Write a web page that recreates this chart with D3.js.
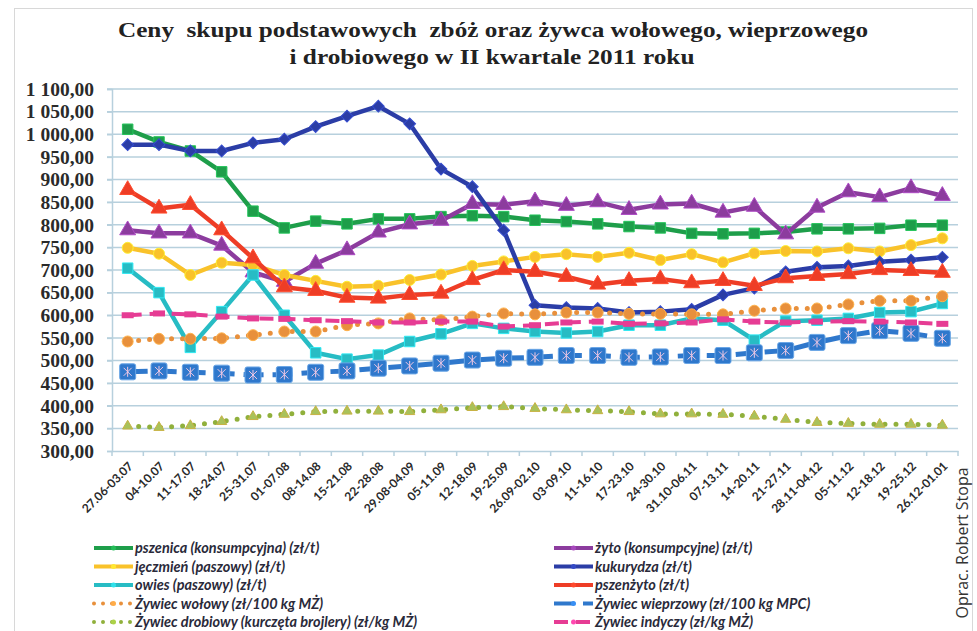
<!DOCTYPE html>
<html>
<head>
<meta charset="utf-8">
<script src="https://cdn.jsdelivr.net/npm/d3@7"></script>
<style>
  body { margin: 0; background: #fff; }
  svg { display: block; }
</style>
</head>
<body>
<script>
const W = 977, H = 631

// kategorie (tygodnie)
const categories = ["27.06-03.07","04-10.07","11-17.07","18-24.07","25-31.07","01-07.08","08-14.08","15-21.08","22-28.08","29.08-04.09","05-11.09","12-18.09","19-25.09","26.09-02.10","03-09.10","11-16.10","17-23.10","24-30.10","31.10-06.11","07-13.11","14-20.11","21-27.11","28.11-04.12","05-11.12","12-18.12","19-25.12","26.12-01.01"]

// serie
const pszenica   = [1011,983,963,917,830,793,808,802,813,813,818,820,818,810,807,802,796,793,781,780,781,784,791,791,792,799,799]
const zyto       = [788,781,781,754,695,674,714,744,783,801,809,846,844,852,842,850,833,845,847,827,840,779,838,872,861,881,864]
const jeczmien   = [749,736,689,716,711,689,676,663,665,678,690,709,719,729,735,729,738,722,735,717,737,742,741,748,741,755,770]
const kukurydza  = [977,977,963,963,981,989,1017,1040,1062,1023,923,884,788,622,617,615,606,608,613,645,660,696,706,709,718,722,728]
const owies      = [704,650,529,608,689,600,517,503,512,542,559,582,571,564,561,564,578,578,593,589,545,587,589,593,606,608,626]
const pszenzyto  = [877,836,844,788,726,662,654,639,637,645,648,678,700,696,685,668,676,680,671,676,665,682,687,691,700,698,694]
const wolowy     = [542,548,548,549,556,564,564,578,582,593,589,597,604,602,606,606,603,603,602,602,610,615,615,624,632,632,642]
const wieprzowy  = [475,477,474,472,468,469,474,477,483,488,494,501,505,507,511,511,507,508,511,511,517,522,540,555,566,560,549]
const drobiowy   = [355,352,356,365,376,381,387,388,388,387,391,396,398,394,391,389,387,382,382,381,377,370,363,361,359,359,357]
const indyczy    = [600,604,602,597,593,592,589,587,584,584,586,586,575,578,584,586,581,582,584,591,586,584,586,587,586,584,581]

const yTicks = d3.range(300, 1101, 50)

// opis serii (kolejność rysowania = kolejność w legendzie, wiersz po wierszu)
const series = [
  { name: 'pszenica (konsumpcyjna) (zł/t)', values: pszenica, color: '#1e9e4a', marker: 'square', col: 0, row: 0 },
  { name: 'żyto (konsumpcyjne) (zł/t)', values: zyto, color: '#8c3c9e', marker: 'triangle', col: 1, row: 0 },
  { name: 'jęczmień (paszowy) (zł/t)', values: jeczmien, color: '#f9c22a', marker: 'circle', col: 0, row: 1 },
  { name: 'kukurydza (zł/t)', values: kukurydza, color: '#2b3da6', marker: 'diamond', col: 1, row: 1 },
  { name: 'owies (paszowy) (zł/t)', values: owies, color: '#27bcc4', marker: 'square', col: 0, row: 2 },
  { name: 'pszenżyto (zł/t)', values: pszenzyto, color: '#ee3d26', marker: 'triangle', col: 1, row: 2 },
  { name: 'Żywiec wołowy (zł/100 kg MŻ)', values: wolowy, color: '#e8903c', marker: 'circle', dash: 'dot', col: 0, row: 3 },
  { name: 'Żywiec wieprzowy (zł/100 kg MPC)', values: wieprzowy, color: '#2f78cc', marker: 'pig', dash: 'long', col: 1, row: 3 },
  { name: 'Żywiec drobiowy (kurczęta brojlery) (zł/kg MŻ)', values: drobiowy, color: '#90b03c', marker: 'smalltri', dash: 'dot', col: 0, row: 4 },
  { name: 'Żywiec indyczy (zł/kg MŻ)', values: indyczy, color: '#e63c94', marker: 'bar', dash: 'mid', col: 1, row: 4 }
]

const svg = d3.select('body').append('svg').attr('width', W).attr('height', H)

svg.append('rect').attr('x', 14.5).attr('y', 8.5).attr('width', 958).attr('height', 640)
  .attr('fill', '#fff').attr('stroke', '#d8d8d8')

// tytuł (podwójne spacje jak w oryginale)
const title = svg.append('g').attr('font-family', '"Liberation Serif", "DejaVu Serif", serif')
  .attr('font-weight', 'bold').attr('fill', '#222').attr('text-anchor', 'middle')
title.append('text').attr('x', 493).attr('y', 37).attr('font-size', 22)
  .attr('textLength', 750).attr('lengthAdjust', 'spacingAndGlyphs')
  .text('Ceny \u00a0skupu podstawowych \u00a0zbóż oraz żywca wołowego, wieprzowego')
title.append('text').attr('x', 492).attr('y', 64).attr('font-size', 22)
  .attr('textLength', 405).attr('lengthAdjust', 'spacingAndGlyphs')
  .text('i drobiowego w II kwartale 2011 roku')

// skale
const x = d3.scaleBand().domain(categories).range([112, 958])
const xc = d => x(d) + x.bandwidth() / 2
const y = d3.scaleLinear().domain([300, 1100]).range([451, 89])

const pl = d3.formatLocale({ decimal: ',', thousands: ' ', grouping: [3], currency: ['', ' zł'] })
const fmt = pl.format(',.2f')

// siatka
svg.append('g').selectAll('line').data(yTicks.slice(1)).join('line')
  .attr('x1', 107).attr('x2', 958)
  .attr('y1', d => y(d)).attr('y2', d => y(d))
  .attr('stroke', '#b7d0dd').attr('stroke-width', 1.5)

// oś Y
const yAxis = svg.append('g').attr('transform', 'translate(112,0)')
  .call(d3.axisLeft(y).tickValues(yTicks).tickFormat(fmt).tickSize(5).tickPadding(13))
yAxis.select('.domain').attr('stroke', '#b7d0dd').attr('stroke-width', 1.5)
yAxis.selectAll('.tick line').attr('stroke', '#b7d0dd').attr('stroke-width', 1.5)
yAxis.selectAll('.tick text').attr('font-family', '"Liberation Serif", "DejaVu Serif", serif')
  .attr('font-weight', 'bold').attr('font-size', 19.5).attr('fill', '#2a2a2a')

// oś X
const xAxis = svg.append('g').attr('transform', 'translate(0,451)')
  .call(d3.axisBottom(x).tickSize(0).tickPadding(0))
xAxis.select('.domain').attr('stroke', '#b7d0dd').attr('stroke-width', 1.5)
xAxis.selectAll('.tick text')
  .attr('font-family', 'Lato, "Liberation Sans", sans-serif').attr('font-weight', 'bold')
  .attr('font-size', 12).attr('fill', '#2a2a2a')
  .attr('text-anchor', 'end').attr('dy', 0)
  .attr('transform', 'translate(6,16) rotate(-45)')
svg.append('g').selectAll('line').data(categories.concat(['end'])).join('line')
  .attr('x1', (d, i) => 112 + i * x.bandwidth()).attr('x2', (d, i) => 112 + i * x.bandwidth())
  .attr('y1', 451).attr('y2', 456)
  .attr('stroke', '#b7d0dd').attr('stroke-width', 1.5)

// markery
function drawMarker(g, s, cx, cy) {
  const c = s.color
  const light = d3.color(c).brighter(0.6)
  if (s.marker === 'square') {
    g.append('path').attr('d', d3.symbol(d3.symbolSquare, 110)())
      .attr('transform', `translate(${cx},${cy})`).attr('fill', c).attr('stroke', light).attr('stroke-width', 1)
  } else if (s.marker === 'diamond') {
    g.append('path').attr('d', d3.symbol(d3.symbolSquare, 70)())
      .attr('transform', `translate(${cx},${cy}) rotate(45)`).attr('fill', c).attr('stroke', light).attr('stroke-width', 1)
  } else if (s.marker === 'triangle') {
    g.append('path').attr('d', d3.symbol(d3.symbolTriangle, 110)())
      .attr('transform', `translate(${cx},${cy})`).attr('fill', c).attr('stroke', light).attr('stroke-width', 1)
  } else if (s.marker === 'circle') {
    g.append('circle').attr('cx', cx).attr('cy', cy).attr('r', 5.5)
      .attr('fill', c).attr('stroke', light).attr('stroke-width', 1)
  } else if (s.marker === 'smalltri') {
    g.append('path').attr('d', d3.symbol(d3.symbolTriangle, 45)())
      .attr('transform', `translate(${cx},${cy})`).attr('fill', '#a9c25a').attr('stroke', '#c8b244').attr('stroke-width', 1)
  } else if (s.marker === 'pig') {
    const m = g.append('g').attr('transform', `translate(${cx},${cy})`)
    m.append('rect').attr('x', -8).attr('y', -8).attr('width', 16).attr('height', 16).attr('rx', 2)
      .attr('fill', c).attr('stroke', '#6aa6e6').attr('stroke-width', 1)
    m.append('path').attr('d', 'M-4,-4L4,4M4,-4L-4,4M0,-5V5')
      .attr('stroke', '#f0c8e4').attr('stroke-width', 1)
  } else if (s.marker === 'bar') {
    g.append('rect').attr('x', cx - 6).attr('y', cy - 3).attr('width', 12).attr('height', 6)
      .attr('fill', c)
  }
}

function styleLine(path, s) {
  path.attr('fill', 'none').attr('stroke', s.color).attr('stroke-linejoin', 'round')
  if (s.dash === 'dot') {
    path.attr('stroke-width', 5).attr('stroke-dasharray', '0 11').attr('stroke-linecap', 'round')
  } else if (s.dash === 'long') {
    path.attr('stroke-width', 5).attr('stroke-dasharray', '20 9')
  } else if (s.dash === 'mid') {
    path.attr('stroke-width', 4).attr('stroke-dasharray', '14 8')
  } else {
    path.attr('stroke-width', 4.5)
  }
}

const line = d3.line().x((v, i) => xc(categories[i])).y(v => y(v))

const plot = svg.append('g')
series.forEach(s => {
  const g = plot.append('g')
  styleLine(g.append('path').attr('d', line(s.values)), s)
  s.values.forEach((v, i) => drawMarker(g, s, xc(categories[i]), y(v)))
})

// legenda
const legend = svg.append('g')
series.forEach(s => {
  const lx = s.col === 0 ? 94 : 554
  const ly = 548 + s.row * 18.5
  const g = legend.append('g')
  styleLine(g.append('path').attr('d', `M${lx},${ly}H${lx + 39}`), s)
  g.select('path').attr('stroke-width', 4)
  if (s.dash === 'dot') g.select('path').attr('stroke-dasharray', '0 9')
  g.append('circle').attr('cx', lx + 19.5).attr('cy', ly).attr('r', 2.5)
    .attr('fill', d3.color(s.color).brighter(0.5))
  g.append('text').attr('x', lx + 41).attr('y', ly + 5)
    .attr('font-family', 'Lato, "Liberation Sans", sans-serif').attr('font-style', 'italic')
    .attr('font-weight', 'bold').attr('font-size', 14.5).attr('fill', '#2a2a3a')
    .text(s.name)
})

// autor
svg.append('text').attr('transform', 'translate(968,543) rotate(-90)')
  .attr('text-anchor', 'middle')
  .attr('font-family', '"Open Sans", "Noto Sans", sans-serif').attr('font-size', 16).attr('fill', '#333')
  .text('Oprac. Robert Stopa')
</script>
</body>
</html>
